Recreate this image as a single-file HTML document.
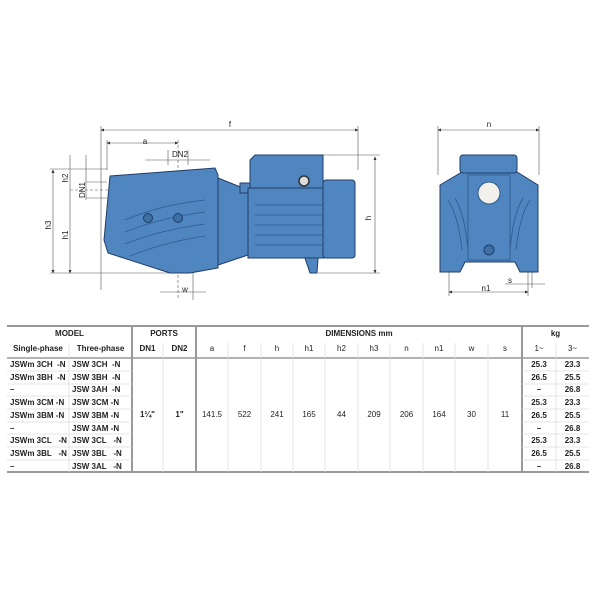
<!DOCTYPE html>
<html><head><meta charset="utf-8"><style>
body{margin:0;width:600px;height:600px;background:#fff;position:relative;overflow:hidden;font-family:"Liberation Sans",sans-serif;color:#222}
svg{position:absolute;left:0;top:0}
.t{position:absolute;font-size:8px;text-align:center;line-height:12.7px}
.b{font-weight:bold}
</style></head><body>
<svg width="600" height="320" viewBox="0 0 600 320">
<defs><marker id="ar" markerWidth="6" markerHeight="6" refX="5" refY="3" orient="auto-start-reverse"><path d="M0,0.5 L6,3 L0,5.5z" fill="#333"/></marker></defs>
<g stroke="#555" stroke-width="0.6" fill="none">
<!-- f -->
<line x1="101" y1="130" x2="358" y2="130" marker-start="url(#ar)" marker-end="url(#ar)"/>
<line x1="101" y1="126" x2="101" y2="290"/><line x1="358" y1="126" x2="358" y2="170"/>
<!-- a -->
<line x1="107" y1="143" x2="178" y2="143" marker-start="url(#ar)" marker-end="url(#ar)"/>
<line x1="107" y1="140" x2="107" y2="170"/>
<line x1="178" y1="140" x2="178" y2="300" stroke-dasharray="3,2"/>
<!-- DN2 -->
<line x1="145" y1="160" x2="210" y2="160"/>
<line x1="168" y1="150" x2="168" y2="165"/><line x1="188" y1="150" x2="188" y2="165"/>
<!-- h -->
<line x1="375" y1="157" x2="375" y2="273" marker-start="url(#ar)" marker-end="url(#ar)"/>
<line x1="323" y1="155" x2="380" y2="155"/><line x1="318" y1="273" x2="380" y2="273"/>
<!-- left dims -->
<line x1="53" y1="170" x2="53" y2="273" marker-start="url(#ar)" marker-end="url(#ar)"/>
<line x1="70" y1="155" x2="70" y2="273" marker-end="url(#ar)"/>
<line x1="50" y1="169" x2="107" y2="169"/><line x1="50" y1="273" x2="185" y2="273"/>
<line x1="86" y1="155" x2="86" y2="200"/>
<line x1="86" y1="182" x2="107" y2="182"/><line x1="86" y1="198" x2="107" y2="198"/>
<line x1="70" y1="190" x2="125" y2="190" stroke-dasharray="3,2"/>
<!-- w -->
<line x1="160" y1="292" x2="206" y2="292"/>
<line x1="193" y1="270" x2="193" y2="300"/>
<!-- front n -->
<line x1="438" y1="130" x2="539" y2="130" marker-start="url(#ar)" marker-end="url(#ar)"/>
<line x1="438" y1="126" x2="438" y2="175"/><line x1="539" y1="126" x2="539" y2="175"/>
<line x1="449" y1="292" x2="528" y2="292" marker-start="url(#ar)" marker-end="url(#ar)"/>
<line x1="449" y1="270" x2="449" y2="296"/><line x1="528" y1="270" x2="528" y2="296"/>
<line x1="505" y1="284" x2="545" y2="284"/><line x1="532" y1="270" x2="532" y2="288"/>
</g>
<g fill="#4f86c0" stroke="#1f3d66" stroke-width="1">
<!-- side pump body -->
<path d="M110,176 L215,168 L218,175 L218,268 L190,273 L170,273 L108,253 L104,240 Z"/>
<path d="M218,178 L248,190 L248,255 L218,265 Z"/>
<rect x="240" y="183" width="10" height="10"/>
<path d="M250,160 L255,155 L323,155 L323,195 L250,195 Z"/>
<rect x="248" y="188" width="76" height="70"/>
<rect x="323" y="180" width="32" height="78" rx="3"/>
<path d="M305,258 L318,258 L317,273 L310,273 Z"/>
<!-- front body -->
<path d="M440,185 L462,172 L517,172 L538,185 L538,272 L520,272 L515,262 L465,262 L460,272 L440,272 Z"/>
<rect x="460" y="155" width="57" height="18" rx="3"/>
</g>
<g fill="none" stroke="#2f5a8f" stroke-width="0.8">
<path d="M125,220 Q160,205 205,200 M125,232 Q160,218 205,212 M125,244 Q160,230 205,224 M130,256 Q165,242 205,236"/>
<path d="M255,205 H322 M255,215 H322 M255,225 H322 M255,235 H322 M255,245 H322"/>
<path d="M448,200 Q458,215 462,250 M455,198 Q465,215 468,250 M530,200 Q520,215 516,250 M523,198 Q513,215 510,250"/>
<rect x="468" y="175" width="42" height="85"/>
</g>
<circle cx="148" cy="218" r="4.5" fill="#3b6fa6" stroke="#1f3d66"/>
<circle cx="178" cy="218" r="4.5" fill="#3b6fa6" stroke="#1f3d66"/>
<circle cx="304" cy="181" r="5" fill="#ddd" stroke="#333" stroke-width="1.5"/>
<circle cx="489" cy="193" r="11" fill="#f2f0ea" stroke="#2f5a8f"/>
<circle cx="489" cy="250" r="5" fill="#3b6fa6" stroke="#1f3d66"/>
<g font-family="Liberation Sans,sans-serif" font-size="8" fill="#222" text-anchor="middle">
<text x="230" y="127">f</text><text x="145" y="144">a</text>
<text x="180" y="157">DN2</text><text x="489" y="127">n</text>
<text x="185" y="292">w</text><text x="486" y="291">n1</text><text x="510" y="283">s</text>
<text transform="translate(371,218) rotate(-90)">h</text>
<text transform="translate(51,225) rotate(-90)">h3</text>
<text transform="translate(68,235) rotate(-90)">h1</text>
<text transform="translate(68,178) rotate(-90)">h2</text>
<text transform="translate(85,190) rotate(-90)">DN1</text>
</g>
</svg>
<svg width="600" height="600" viewBox="0 0 600 600">
<g stroke="#999" stroke-width="2" fill="none">
<line x1="7" y1="326" x2="589" y2="326"/><line x1="7" y1="358" x2="589" y2="358" stroke-width="1.5"/>
<line x1="7" y1="472" x2="589" y2="472"/>
<line x1="132" y1="326" x2="132" y2="472"/><line x1="196" y1="326" x2="196" y2="472"/><line x1="522" y1="326" x2="522" y2="472"/>
</g>
<g stroke="#ddd" stroke-width="0.8">
<line x1="69" y1="343" x2="69" y2="472"/><line x1="163" y1="343" x2="163" y2="472"/>
<line x1="228" y1="343" x2="228" y2="472"/><line x1="261" y1="343" x2="261" y2="472"/><line x1="293" y1="343" x2="293" y2="472"/>
<line x1="325" y1="343" x2="325" y2="472"/><line x1="358" y1="343" x2="358" y2="472"/><line x1="390" y1="343" x2="390" y2="472"/>
<line x1="423" y1="343" x2="423" y2="472"/><line x1="455" y1="343" x2="455" y2="472"/><line x1="488" y1="343" x2="488" y2="472"/>
<line x1="556" y1="343" x2="556" y2="472"/>
<line x1="7" y1="371" x2="132" y2="371"/><line x1="7" y1="384" x2="132" y2="384"/><line x1="7" y1="396" x2="132" y2="396"/>
<line x1="7" y1="409" x2="132" y2="409"/><line x1="7" y1="422" x2="132" y2="422"/><line x1="7" y1="434" x2="132" y2="434"/>
<line x1="7" y1="447" x2="132" y2="447"/><line x1="7" y1="460" x2="132" y2="460"/>
<line x1="522" y1="371" x2="589" y2="371"/><line x1="522" y1="384" x2="589" y2="384"/><line x1="522" y1="396" x2="589" y2="396"/>
<line x1="522" y1="409" x2="589" y2="409"/><line x1="522" y1="422" x2="589" y2="422"/><line x1="522" y1="434" x2="589" y2="434"/>
<line x1="522" y1="447" x2="589" y2="447"/><line x1="522" y1="460" x2="589" y2="460"/>
</g>
</svg>
<div class="t b" style="left:7px;top:328px;width:125px">MODEL</div>
<div class="t b" style="left:132px;top:328px;width:64px">PORTS</div>
<div class="t b" style="left:196px;top:328px;width:326px">DIMENSIONS mm</div>
<div class="t b" style="left:522px;top:328px;width:67px">kg</div>
<div class="t b" style="left:7px;top:343px;width:62px">Single-phase</div>
<div class="t b" style="left:69px;top:343px;width:63px">Three-phase</div>
<div class="t b" style="left:132px;top:343px;width:31px">DN1</div>
<div class="t b" style="left:163px;top:343px;width:33px">DN2</div>
<div class="t" style="left:196px;top:343px;width:32px">a</div><div class="t" style="left:228px;top:343px;width:33px">f</div>
<div class="t" style="left:261px;top:343px;width:32px">h</div><div class="t" style="left:293px;top:343px;width:32px">h1</div>
<div class="t" style="left:325px;top:343px;width:33px">h2</div><div class="t" style="left:358px;top:343px;width:32px">h3</div>
<div class="t" style="left:390px;top:343px;width:33px">n</div><div class="t" style="left:423px;top:343px;width:32px">n1</div>
<div class="t" style="left:455px;top:343px;width:33px">w</div><div class="t" style="left:488px;top:343px;width:34px">s</div>
<div class="t" style="left:522px;top:343px;width:34px">1~</div><div class="t" style="left:556px;top:343px;width:33px">3~</div>
<div class="t b" style="left:10px;top:359px;text-align:left">JSWm 3CH&nbsp; -N<br>JSWm 3BH&nbsp; -N<br>–<br>JSWm 3CM -N<br>JSWm 3BM -N<br>–<br>JSWm 3CL&nbsp;&nbsp; -N<br>JSWm 3BL&nbsp;&nbsp; -N<br>–</div>
<div class="t b" style="left:72px;top:359px;text-align:left">JSW 3CH&nbsp; -N<br>JSW 3BH&nbsp; -N<br>JSW 3AH&nbsp; -N<br>JSW 3CM -N<br>JSW 3BM -N<br>JSW 3AM -N<br>JSW 3CL&nbsp;&nbsp; -N<br>JSW 3BL&nbsp;&nbsp; -N<br>JSW 3AL&nbsp;&nbsp; -N</div>
<div class="t b" style="left:132px;top:409px;width:31px">1¼"</div>
<div class="t b" style="left:163px;top:409px;width:33px">1"</div>
<div class="t" style="left:196px;top:409px;width:32px">141.5</div><div class="t" style="left:228px;top:409px;width:33px">522</div>
<div class="t" style="left:261px;top:409px;width:32px">241</div><div class="t" style="left:293px;top:409px;width:32px">165</div>
<div class="t" style="left:325px;top:409px;width:33px">44</div><div class="t" style="left:358px;top:409px;width:32px">209</div>
<div class="t" style="left:390px;top:409px;width:33px">206</div><div class="t" style="left:423px;top:409px;width:32px">164</div>
<div class="t" style="left:455px;top:409px;width:33px">30</div><div class="t" style="left:488px;top:409px;width:34px">11</div>
<div class="t b" style="left:522px;top:359px;width:34px">25.3<br>26.5<br>–<br>25.3<br>26.5<br>–<br>25.3<br>26.5<br>–</div>
<div class="t b" style="left:556px;top:359px;width:33px">23.3<br>25.5<br>26.8<br>23.3<br>25.5<br>26.8<br>23.3<br>25.5<br>26.8</div>
</body></html>
